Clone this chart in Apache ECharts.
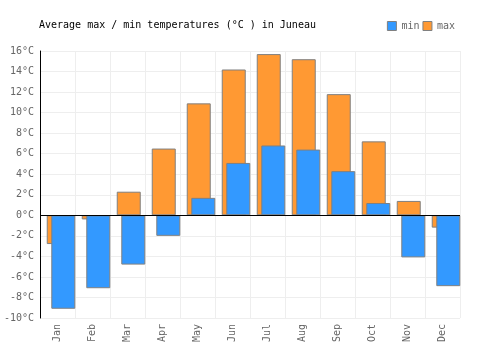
<!DOCTYPE html>
<html>
<head>
<meta charset="utf-8">
<script src="https://cdn.jsdelivr.net/npm/echarts@6/dist/echarts.min.js"></script>
<style>
  html, body { margin: 0; padding: 0; background: #fff; }
  #chart { width: 500px; height: 350px; }
</style>
</head>
<body>
<div id="chart"></div>
<script>
const months = ['Jan', 'Feb', 'Mar', 'Apr', 'May', 'Jun', 'Jul', 'Aug', 'Sep', 'Oct', 'Nov', 'Dec'];
const maxTemps = [-2.8, -0.4, 2.3, 6.5, 10.9, 14.2, 15.7, 15.2, 11.8, 7.2, 1.4, -1.2];
const minTemps = [-9.1, -7.1, -4.8, -2.0, 1.7, 5.1, 6.8, 6.4, 4.3, 1.2, -4.1, -6.9];

const font = 'DejaVu Sans Mono';
const chart = echarts.init(document.getElementById('chart'));

chart.setOption({
  animation: false,
  title: {
    text: 'Average max / min temperatures (°C ) in Juneau',
    left: 34,
    top: 15,
    textStyle: { fontFamily: font, fontSize: 10, fontWeight: 'normal', color: '#000' }
  },
  legend: {
    data: ['min', 'max'],
    right: 40,
    top: 16,
    itemWidth: 9,
    itemHeight: 9,
    itemGap: 3,
    icon: 'rect',
    itemStyle: { borderColor: '#808080', borderWidth: 1 },
    textStyle: { fontFamily: font, fontSize: 10, color: '#666' }
  },
  grid: { left: 40, right: 40, top: 51, bottom: 32 },
  xAxis: {
    type: 'category',
    data: months,
    axisLine: { show: false },
    axisTick: { show: false },
    axisLabel: { rotate: 90, fontFamily: font, fontSize: 10, color: '#666', margin: 6 },
    splitLine: { show: true, interval: 0, lineStyle: { color: '#eeeeee' } }
  },
  yAxis: {
    type: 'value',
    min: -10,
    max: 16,
    interval: 2,
    axisLine: { show: true, lineStyle: { color: '#000' } },
    axisTick: { show: false },
    axisLabel: { formatter: '{value}°C', fontFamily: font, fontSize: 10, color: '#666', margin: 6 },
    splitLine: { lineStyle: { color: '#eeeeee' } }
  },
  series: [
    {
      // empty spacer so the bar pair sits toward the right of each month
      name: 'spacer',
      type: 'bar',
      barWidth: 37,
      data: [],
      silent: true
    },
    {
      name: 'max',
      type: 'bar',
      barWidth: 24,
      data: maxTemps,
      itemStyle: { color: '#ff9933', borderColor: '#808080', borderWidth: 1 }
    },
    {
      name: 'min',
      type: 'bar',
      barWidth: 24,
      barGap: '-81%',
      data: minTemps,
      itemStyle: { color: '#3399ff', borderColor: '#808080', borderWidth: 1 },
      markLine: {
        silent: true,
        symbol: 'none',
        label: { show: false },
        lineStyle: { color: '#000', width: 1, type: 'solid' },
        data: [{ yAxis: 0 }]
      }
    }
  ]
});
</script>
</body>
</html>
